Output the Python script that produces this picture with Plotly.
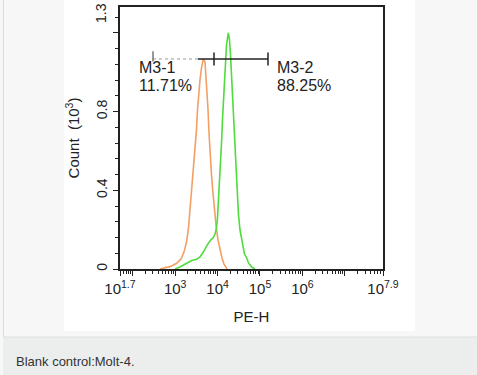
import plotly.graph_objects as go

# ---- data (x given as log10 of PE-H intensity, y in counts x10^3) ----
orange_log = [2.643, 2.879, 3.037, 3.138, 3.209, 3.268, 3.315, 3.350, 3.397, 3.433, 3.468, 3.503,
              3.527, 3.551, 3.586, 3.621, 3.664, 3.704, 3.727, 3.751, 3.775, 3.798, 3.822, 3.857,
              3.892, 3.928, 3.963, 4.010, 4.057, 4.105, 4.152, 4.222]
orange_y = [0.000, 0.012, 0.029, 0.051, 0.086, 0.137, 0.209, 0.300, 0.402, 0.504, 0.605, 0.707,
            0.809, 0.885, 0.961, 1.022, 1.066, 1.053, 0.987, 0.910, 0.809, 0.692, 0.580, 0.478,
            0.387, 0.300, 0.224, 0.148, 0.097, 0.056, 0.025, 0.000]

green_log = [2.997, 3.114, 3.272, 3.390, 3.508, 3.586, 3.664, 3.727, 3.782, 3.845, 3.899, 3.940,
             3.975, 3.998, 4.017, 4.046, 4.069, 4.097, 4.116, 4.140, 4.163, 4.187, 4.211, 4.253,
             4.281, 4.305, 4.328, 4.352, 4.376, 4.399, 4.418, 4.446, 4.470, 4.493, 4.529, 4.569,
             4.600, 4.635, 4.687, 4.729, 4.805, 4.882]
green_y = [0.000, 0.010, 0.029, 0.043, 0.049, 0.061, 0.086, 0.112, 0.131, 0.148, 0.160, 0.178,
           0.209, 0.259, 0.326, 0.427, 0.529, 0.656, 0.758, 0.860, 0.961, 1.063, 1.139, 1.199,
           1.165, 1.089, 0.987, 0.885, 0.783, 0.682, 0.580, 0.453, 0.351, 0.275, 0.198, 0.148,
           0.107, 0.076, 0.056, 0.031, 0.010, 0.000]

# gate markers (log10 positions) and their level
gate_dotted_log = [2.478, 3.539]
gate_solid_log = [3.539, 5.189]
gate_tick_gray_log = 2.478
gate_tick_black_log = [3.916, 5.189]
gate_level = 1.067
gate_half = 0.033

gate_labels = ["M3-1", "M3-2"]
gate_pcts = ["11.71%", "88.25%"]
gate_label_log = [2.095, 5.354]

x_tickvals_log = [1.7, 2, 3, 4, 5, 6, 7, 7.9]
x_ticktext = ["10<sup>1.7</sup>", "", "10<sup>3</sup>", "10<sup>4</sup>", "10<sup>5</sup>",
              "10<sup>6</sup>", "", "10<sup>7.9</sup>"]
y_tickvals = [0, 0.4, 0.8, 1.2]
y_ticktext = ["0", "0.4", "0.8", ""]
y_top_label = "1.3"

caption = "Blank control:Molt-4."

W, H = 477, 375
ML, MR, MT, MB = 120, 94, 7, 106
PW, PH = W - ML - MR, H - MT - MB


def px(x):
    return (x - ML) / PW


def py(y):
    return (H - MB - y) / PH


FONT = "Liberation Sans, Arial, sans-serif"

fig = go.Figure()
fig.add_trace(go.Scatter(x=[10 ** v for v in orange_log], y=orange_y, mode="lines",
                         line=dict(color="#f2a066", width=1.6), hoverinfo="skip"))
fig.add_trace(go.Scatter(x=[10 ** v for v in green_log], y=green_y, mode="lines",
                         line=dict(color="#4fdc3c", width=1.6), hoverinfo="skip"))
# gates
fig.add_trace(go.Scatter(x=[10 ** v for v in gate_dotted_log], y=[gate_level] * 2, mode="lines",
                         line=dict(color="#9a9a9a", width=1, dash="dot"), hoverinfo="skip"))
fig.add_trace(go.Scatter(x=[10 ** v for v in gate_solid_log], y=[gate_level] * 2, mode="lines",
                         line=dict(color="#222222", width=1.5), hoverinfo="skip"))
fig.add_trace(go.Scatter(x=[10 ** gate_tick_gray_log] * 2,
                         y=[gate_level - gate_half * 0.4, gate_level + gate_half * 1.2], mode="lines",
                         line=dict(color="#555555", width=1.2), hoverinfo="skip"))
for v in gate_tick_black_log:
    fig.add_trace(go.Scatter(x=[10 ** v] * 2, y=[gate_level - gate_half, gate_level + gate_half],
                             mode="lines", line=dict(color="#222222", width=1.5), hoverinfo="skip"))

minor_vals = [k * 10 ** d for d in range(1, 8) for k in range(2, 10)
              if 10 ** 1.7 < k * 10 ** d < 10 ** 7.9]

fig.update_xaxes(type="log", range=[1.7, 7.9], showgrid=False, zeroline=False,
                 showline=True, mirror=True, linecolor="#222222", linewidth=2,
                 tickmode="array", tickvals=[10 ** v for v in x_tickvals_log], ticktext=x_ticktext,
                 ticks="outside", ticklen=5, tickwidth=1.3, tickcolor="#222222",
                 tickfont=dict(family=FONT, size=15, color="#222222"),
                 minor=dict(tickvals=minor_vals, ticks="outside", ticklen=3, tickwidth=1,
                            tickcolor="#222222", showgrid=False),
                 title=dict(text="PE-H", standoff=15,
                            font=dict(family=FONT, size=15, color="#222222")))
fig.update_yaxes(range=[0, 1.331], showgrid=False, zeroline=False,
                 showline=True, mirror=True, linecolor="#222222", linewidth=2,
                 tickmode="array", tickvals=y_tickvals, ticktext=y_ticktext, tickangle=-90,
                 ticks="outside", ticklen=5, tickwidth=1.3, tickcolor="#222222",
                 tickfont=dict(family=FONT, size=14, color="#222222"),
                 minor=dict(dtick=0.08, tick0=0, ticks="outside", ticklen=3, tickwidth=1,
                            tickcolor="#222222", showgrid=False),
                 title=dict(text="Count  (10<sup>3</sup>)", standoff=11,
                            font=dict(family=FONT, size=15, color="#222222")))

ann_font = dict(family=FONT, size=16, color="#222222")
annotations = []
for lbl, pct, xl in zip(gate_labels, gate_pcts, gate_label_log):
    annotations.append(dict(x=xl, y=1.024, xref="x", yref="y", text=lbl, showarrow=False,
                            xanchor="left", yanchor="middle", font=ann_font))
    annotations.append(dict(x=xl, y=0.931, xref="x", yref="y", text=pct, showarrow=False,
                            xanchor="left", yanchor="middle", font=ann_font))
# axis-top label of the y axis (kept just inside the page edge)
annotations.append(dict(x=px(101), y=py(1), xref="paper", yref="paper", text=y_top_label,
                        showarrow=False, textangle=-90, xanchor="center", yanchor="top",
                        font=dict(family=FONT, size=14, color="#222222")))
annotations.append(dict(x=px(14), y=py(361), xref="paper", yref="paper", text=caption,
                        showarrow=False, xanchor="left", yanchor="middle",
                        font=dict(family=FONT, size=13, color="#333333")))

shapes = [
    # caption bar
    dict(type="rect", xref="paper", yref="paper", x0=px(3), x1=px(W + 2), y0=py(H + 2), y1=py(337),
         fillcolor="#eceeee", line=dict(width=0), layer="below"),
    dict(type="line", xref="paper", yref="paper", x0=px(3), x1=px(W + 2), y0=py(337), y1=py(337),
         line=dict(color="#dcdcdc", width=1), layer="below"),
    dict(type="line", xref="paper", yref="paper", x0=px(3.5), x1=px(3.5), y0=py(-2), y1=py(337),
         line=dict(color="#dcdcdc", width=1), layer="below"),
    # white image panel
    dict(type="rect", xref="paper", yref="paper", x0=px(64), x1=px(415), y0=py(331), y1=py(-2),
         fillcolor="#ffffff", line=dict(width=0), layer="below"),
]

fig.update_layout(width=W, height=H, margin=dict(l=ML, r=MR, t=MT, b=MB, autoexpand=False),
                  paper_bgcolor="#f7f7f7", plot_bgcolor="#ffffff", showlegend=False,
                  annotations=annotations, shapes=shapes)

fig.write_html("out.html", config={"displayModeBar": False},
               post_script="document.body.style.margin='0';document.body.style.padding='0';"
                           "document.body.style.overflow='hidden';")
